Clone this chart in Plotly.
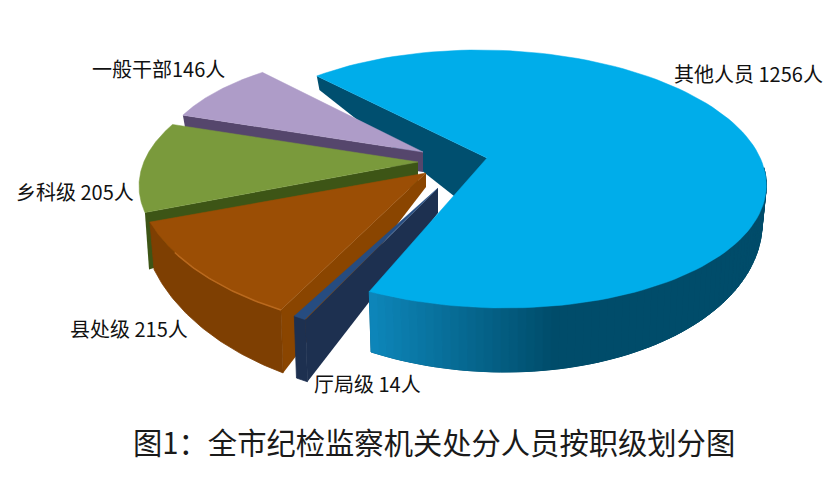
import numpy as np
import plotly.graph_objects as go

# order is the way the pie runs clockwise from its start angle
categories = ['其他人员', '厅局级', '县处级', '乡科级', '一般干部']
values = [1256, 14, 215, 205, 146]
separators = [' ', ' ', ' ', ' ', '']
title_text = '图1：全市纪检监察机关处分人员按职级划分图'

START_ANGLE = -37

top_colors = ['#00ADEA', '#264C80', '#9B4E05', '#7A9A3C', '#AE9CC8']
radial_colors = ['#004F6F', '#1D3050', '#8A4500', '#3D5516', '#55466C']

# fake 3d: every exploded slice gets its own ellipse, apex and wall height
apexes = [(487, 158), (438, 188), (426, 173), (418, 162), (423, 152)]
centers = [(492, 179), (438, 188), (426, 174), (418, 186), (417, 161)]
radii = [(274, 129), (271, 151), (290, 157), (279, 129.5), (257, 111)]
rotations = [0, 0, -2, 4, 0]
shears = [0.1, 0, 0, 0, 0]
# wall height at (y0, h0) and (y1, h1) on the rim
heights = [(76, 14, 308, 64), (316, 62, 320, 62), (225, 48, 310, 63), (124, 30, 213, 57), (72, 15, 115, 20)]
apex_depths = [64, 25, 14, 24, 20]
shrink = 0.985

label_xy = [(672, 73), (312, 383), (68, 328), (14, 191), (90, 68)]
title_xy = (434, 441)

fig = go.Figure()


def poly(xs, ys, color, width=0.0):
    fig.add_trace(go.Scatter(
        x=list(xs), y=list(ys), mode='lines', fill='toself', fillcolor=color,
        line=dict(color=color, width=width), hoverinfo='skip', showlegend=False,
    ))


def rim(i, t):
    cx, cy = centers[i]
    a, b = radii[i]
    r = np.radians(t + rotations[i])
    y = cy - b * np.cos(r)
    x = cx + a * np.sin(r) + shears[i] * (y - cy)
    return x, y


def wall_bottom(i, x, y):
    y0, h0, y1, h1 = heights[i]
    h = h0 + (h1 - h0) * (y - y0) / (y1 - y0)
    cx = centers[i][0]
    return cx + (x - cx) * shrink, y + h


def top_face(i, t0, t1):
    ts = np.linspace(t0, t1, 120)
    x, y = rim(i, ts)
    ax, ay = apexes[i]
    poly(np.r_[ax, x, ax], np.r_[ay, y, ay], top_colors[i], 0.5)


def radial_wall(i, t):
    x, y = rim(i, t)
    bx, by = wall_bottom(i, x, y)
    ax, ay = apexes[i]
    poly([x, ax, ax, bx, x], [y, ay, ay + apex_depths[i], by, y], radial_colors[i])


def outer_wall(i, t0, t1, base_color, color_fn=None, n=60):
    ts = np.linspace(t0, t1, n + 1)
    x, y = rim(i, ts)
    bx, by = wall_bottom(i, x, y)
    # one solid piece under the bands, otherwise the seams show up as stripes
    poly(np.r_[x, bx[::-1], x[0]], np.r_[y, by[::-1], y[0]], base_color, 0.8)
    if color_fn is None:
        return
    for k in range(n):
        poly([x[k], x[k + 1], bx[k + 1], bx[k], x[k]],
             [y[k], y[k + 1], by[k + 1], by[k], y[k]], color_fn(x[k]), 1.0)


def main_wall_color(x):
    # dark on the right, brighter toward the cut end at the left
    u = np.clip((x - 370) / 190, 0, 1)
    r = int(14 + (0 - 14) * u)
    g = int(136 + (76 - 136) * u)
    b = int(188 + (106 - 188) * u)
    return f'rgb({r},{g},{b})'


angles = START_ANGLE + np.r_[0, np.cumsum(values)] / sum(values) * 360

# back of the big slice goes first, the small ones sit on top of it
radial_wall(0, angles[0])

# purple
radial_wall(4, angles[4])
top_face(4, angles[4], angles[5])

# green
radial_wall(3, angles[3])
top_face(3, angles[3], angles[4])

# orange
radial_wall(2, angles[2])
outer_wall(2, angles[2], angles[3], '#7E3F02')
top_face(2, angles[2], angles[3])
hl_x, hl_y = rim(2, np.linspace(angles[2], angles[2] + 30, 40))
fig.add_trace(go.Scatter(x=hl_x, y=hl_y, mode='lines', line=dict(color='#B9691E', width=1.5),
                         hoverinfo='skip', showlegend=False))

# navy
outer_wall(1, angles[1], angles[2], '#1D3050', n=4)
radial_wall(1, angles[1])
top_face(1, angles[1], angles[2])

# big slice
outer_wall(0, 85, angles[1], '#004C6A', main_wall_color, n=70)
top_face(0, angles[0], angles[1])

for i, (cat, val) in enumerate(zip(categories, values)):
    fig.add_annotation(
        x=label_xy[i][0], y=label_xy[i][1], text=f'{cat}{separators[i]}{val}人',
        xanchor='left', yanchor='middle', showarrow=False,
        font=dict(family='Noto Sans CJK SC', size=20, color='#111111'),
    )

fig.add_annotation(
    x=title_xy[0], y=title_xy[1], text=title_text, xanchor='center', yanchor='middle', showarrow=False,
    font=dict(family='Noto Sans CJK SC', size=29.3, color='#1a1a1a'),
)

# the page has an 8px body margin, so the plot starts at pixel 8
fig.update_xaxes(range=[8, 828], visible=False, fixedrange=True)
fig.update_yaxes(range=[472, 8], visible=False, fixedrange=True)
fig.update_layout(
    width=820, height=464, margin=dict(l=0, r=0, t=0, b=0),
    paper_bgcolor='white', plot_bgcolor='white', showlegend=False,
)
fig.write_html("out.html")
